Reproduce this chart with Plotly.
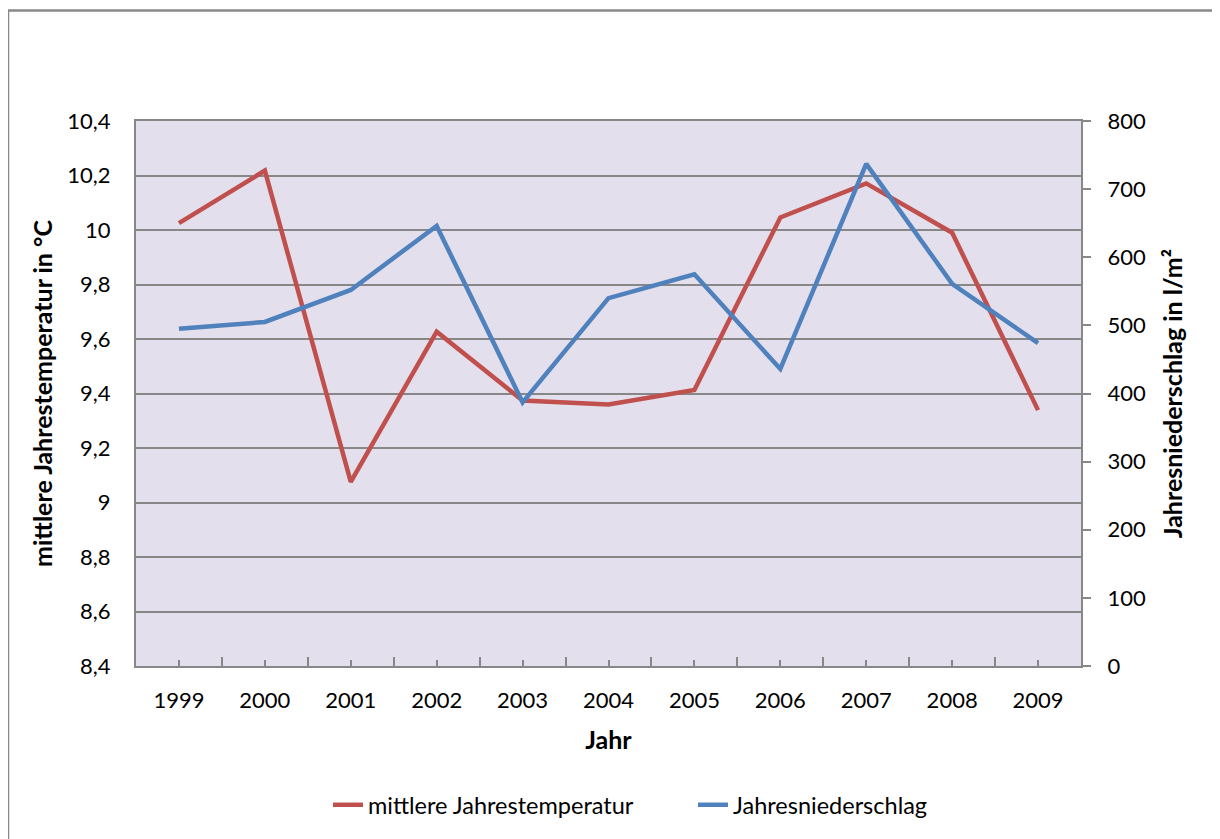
import plotly.graph_objects as go

years = ["1999", "2000", "2001", "2002", "2003", "2004", "2005", "2006", "2007", "2008", "2009"]
temperature = [10.025, 10.218, 9.076, 9.627, 9.374, 9.36, 9.413, 10.046, 10.171, 9.99, 9.339]
precipitation = [495, 505, 552, 646, 387, 540, 575, 436, 737, 561, 474]

left_ticks = [8.4, 8.6, 8.8, 9.0, 9.2, 9.4, 9.6, 9.8, 10.0, 10.2, 10.4]
left_ticktext = ["8,4", "8,6", "8,8", "9", "9,2", "9,4", "9,6", "9,8", "10", "10,2", "10,4"]
right_ticks = [0, 100, 200, 300, 400, 500, 600, 700, 800]

RED = "#C0504D"
BLUE = "#4F81BD"
GRID = "#878787"
FONT = "Lato, Open Sans, sans-serif"

xpos = list(range(len(years)))

fig = go.Figure()
fig.add_trace(go.Scatter(x=xpos, y=temperature, mode="lines", name="mittlere Jahrestemperatur",
                         line=dict(color=RED, width=4.5), yaxis="y"))
fig.add_trace(go.Scatter(x=xpos, y=precipitation, mode="lines", name="Jahresniederschlag",
                         line=dict(color=BLUE, width=4.5), yaxis="y2"))

# page has an 8px body margin; figure placed so plot area sits at x 136-1081, y 121-666
fig.update_layout(
    width=1212, height=831,
    margin=dict(l=128, r=139, t=113, b=173),
    paper_bgcolor="white",
    plot_bgcolor="#E4DFEC",
    font=dict(family=FONT, size=21, color="black"),
    showlegend=True,
    legend=dict(orientation="h", x=(328 - 136) / 945, xanchor="left", y=(666 - 805) / 545, yanchor="middle",
                font=dict(size=23.5), entrywidth=320, entrywidthmode="pixels", tracegroupgap=0),
    xaxis=dict(
        range=[-0.5, len(years) - 0.5], tickmode="array", tickvals=xpos, ticktext=years,
        showgrid=False, zeroline=False, showline=True, linecolor=GRID, linewidth=2, mirror=True,
        ticks="inside", ticklen=6, tickcolor=GRID, tickwidth=1.5,
        minor=dict(tick0=-0.5, dtick=1, ticks="inside", ticklen=9, tickcolor=GRID, tickwidth=1.5),
        tickfont=dict(size=22), ticklabelstandoff=14,
        title=dict(text="<b>Jahr</b>", font=dict(size=25), standoff=19),
    ),
    yaxis=dict(
        range=[8.4, 10.4], tickmode="array", tickvals=left_ticks, ticktext=left_ticktext,
        showgrid=True, gridcolor=GRID, gridwidth=2, zeroline=False,
        showline=True, linecolor=GRID, linewidth=2, ticks="", tickfont=dict(size=22),
        ticklabelstandoff=19,
        title=dict(text="<b>mittlere Jahrestemperatur in °C</b>", font=dict(size=25), standoff=8),
    ),
    yaxis2=dict(
        range=[0, 800], tickmode="array", tickvals=right_ticks, overlaying="y", side="right",
        showgrid=False, zeroline=False, showline=True, linecolor=GRID, linewidth=2,
        ticks="outside", ticklen=8, tickcolor=GRID, tickwidth=1.5, tickfont=dict(size=22),
        ticklabelstandoff=12,
        title=dict(text="<b>Jahresniederschlag in l/m²</b>", font=dict(size=25), standoff=20),
    ),
    shapes=[
        dict(type="line", xref="paper", yref="paper", x0=(8 - 136) / 945, x1=(1230 - 136) / 945,
             y0=(666 - 10.5) / 545, y1=(666 - 10.5) / 545, line=dict(color="#888888", width=2.5)),
        dict(type="line", xref="paper", yref="paper", x0=(8 - 136) / 945, x1=(8 - 136) / 945,
             y0=(666 - 10.5) / 545, y1=(666 - 850) / 545, line=dict(color="#888888", width=2.5)),
    ],
)

fig.write_html("out.html")
